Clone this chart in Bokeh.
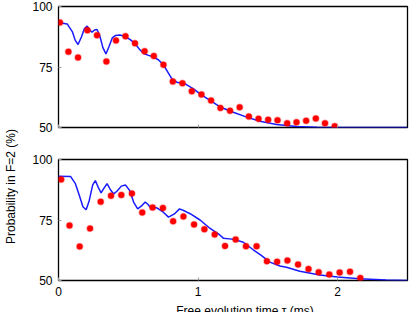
import math
from bokeh.plotting import figure
from bokeh.layouts import row, column
from bokeh.models import FixedTicker, Label
from bokeh.embed import file_html
from bokeh.resources import INLINE

# ---------------- data ----------------
x_ticks = [0, 1, 2]
y_ticks = [50, 75, 100]

top_x = [0.01, 0.071, 0.14, 0.207, 0.276, 0.343, 0.412, 0.48, 0.548, 0.617,
         0.683, 0.752, 0.819, 0.888, 0.955, 1.024, 1.093, 1.16, 1.229, 1.298,
         1.364, 1.433, 1.502, 1.569, 1.638, 1.705, 1.774, 1.843, 1.909, 1.979]
top_y = [93.4, 81.3, 78.9, 90.2, 88.1, 77.3, 86.0, 87.7, 84.8, 81.5,
         79.5, 75.9, 69.0, 68.3, 65.0, 63.6, 61.2, 58.1, 56.9, 58.4,
         54.5, 53.6, 53.2, 53.0, 51.8, 52.2, 52.8, 53.7, 51.8, 50.5]

top_fit_x = [0, 0.03, 0.062, 0.1, 0.12, 0.14, 0.165, 0.185, 0.205, 0.222, 0.24,
             0.258, 0.276, 0.295, 0.318, 0.34, 0.362, 0.385, 0.407, 0.44,
             0.479, 0.514, 0.55, 0.58, 0.61, 0.645, 0.681, 0.715, 0.752, 0.782,
             0.812, 0.848, 0.907, 0.967, 1.026, 1.086, 1.157, 1.252, 1.348,
             1.443, 1.562, 1.705, 1.85, 2.0, 2.25, 2.5]
top_fit_y = [93.1, 93.1, 92.8, 89.5, 86.0, 84.3, 87.5, 90.8, 91.9, 90.5, 89.4,
             90.3, 90.5, 88.0, 83.0, 80.4, 83.5, 87.0, 88.0, 88.2,
             87.6, 86.3, 84.6, 82.3, 80.6, 79.8, 79.1, 78.0, 75.9, 73.0,
             70.1, 68.7, 68.0, 66.0, 63.4, 61.2, 58.5, 56.3, 54.3,
             52.6, 51.2, 50.4, 50.1, 50.0, 50.0, 50.0]

bot_x = [0.019, 0.079, 0.152, 0.226, 0.302, 0.376, 0.45, 0.526, 0.6, 0.674,
         0.748, 0.821, 0.895, 0.971, 1.045, 1.119, 1.193, 1.269, 1.343, 1.419,
         1.493, 1.566, 1.64, 1.716, 1.791, 1.864, 1.94, 2.014, 2.088, 2.162]
bot_y = [91.7, 72.7, 64.0, 71.5, 82.5, 85.0, 85.3, 86.0, 78.1, 80.2,
         80.0, 74.5, 76.4, 73.1, 71.2, 69.0, 64.3, 66.9, 64.2, 64.2,
         58.0, 57.7, 58.3, 56.6, 54.8, 53.4, 52.5, 53.3, 53.6, 51.0]

bot_fit_x = [0, 0.086, 0.121, 0.15, 0.175, 0.198, 0.22, 0.245, 0.264, 0.285,
             0.305, 0.327, 0.348, 0.372, 0.395, 0.42, 0.45, 0.479, 0.51, 0.538,
             0.567, 0.595, 0.621, 0.64, 0.657, 0.68, 0.705, 0.745, 0.788, 0.83,
             0.867, 0.905, 0.943, 1.014, 1.086, 1.145, 1.181, 1.224, 1.264,
             1.324, 1.395, 1.45, 1.514, 1.586, 1.633, 1.729, 1.871, 1.998,
             2.157, 2.348, 2.5]
bot_fit_y = [93.1, 93.0, 90.0, 85.0, 80.5, 79.2, 83.0, 89.5, 91.3, 88.5,
             86.2, 88.3, 90.0, 87.5, 85.8, 87.0, 89.0, 89.5, 87.2, 82.4,
             79.6, 80.8, 82.4, 81.5, 80.3, 80.3, 80.0, 78.5, 76.2, 77.5,
             79.6, 78.7, 77.6, 75.0, 71.5, 69.3, 67.5, 67.2, 66.9,
             65.8, 62.7, 60.5, 57.6, 56.0, 55.5, 53.8, 52.3, 51.4,
             50.7, 50.2, 50.0]

y_title = "Probability in F=2 (%)"
x_title = "Free evolution time τ (ms)"

FONT = "Liberation Sans"


def panel(h, top, bottom, fx, fy, px, py, show_x_labels):
    p = figure(width=387, height=h, x_range=(0, 2.5), y_range=(50, 100),
               output_backend="svg", toolbar_location=None,
               min_border_left=36, min_border_right=2,
               min_border_top=top, min_border_bottom=bottom)
    p.grid.visible = False
    p.outline_line_color = "black"
    p.outline_line_width = 1.3
    p.line(fx, fy, color="#1a1aff", line_width=1.5)
    p.scatter(px, py, size=6, fill_color="red", line_color="red",
              line_alpha=0.35, line_width=1.5)
    p.xaxis.ticker = FixedTicker(ticks=x_ticks)
    p.yaxis.ticker = FixedTicker(ticks=y_ticks)
    for ax in (p.xaxis[0], p.yaxis[0]):
        ax.axis_line_color = None
        ax.major_tick_in = 3
        ax.major_tick_out = 0
        ax.major_tick_line_color = "#999999"
        ax.minor_tick_line_color = None
        ax.major_label_text_font = FONT
        ax.major_label_text_font_size = "12px"
        ax.major_label_text_color = "black"
        ax.major_label_standoff = 6
    if not show_x_labels:
        p.xaxis.major_label_overrides = {t: "" for t in x_ticks}
        p.xaxis.major_label_standoff = 0
    return p


p1 = panel(140, 6, 13, top_fit_x, top_fit_y, top_x, top_y, False)
p2 = panel(160, 19, 20, bot_fit_x, bot_fit_y, bot_x, bot_y, True)

# strip holding the x-axis title (cut at the window bottom as in the reference)
tfig = figure(width=387, height=12, x_range=(0, 387), y_range=(0, 12),
              output_backend="svg", toolbar_location=None,
              x_axis_location=None, y_axis_location=None, min_border=0)
tfig.grid.visible = False
tfig.outline_line_color = None
tfig.add_layout(Label(x=36 + 1.22 * 140, y=2, text=x_title, text_align="center",
                      text_baseline="alphabetic", text_font=FONT,
                      text_font_size="12px", text_color="black"))

lab = figure(width=22, height=312, x_range=(0, 22), y_range=(0, 312),
             output_backend="svg", toolbar_location=None,
             x_axis_location=None, y_axis_location=None, min_border=0)
lab.grid.visible = False
lab.outline_line_color = None
lab.add_layout(Label(x=10, y=312 - 186, text=y_title,
                     angle=math.pi / 2, text_align="center",
                     text_baseline="middle", text_font=FONT,
                     text_font_size="12px", text_color="black"))

layout = row(lab, column(p1, p2, tfig))

open("out.html", "w").write(file_html(layout, INLINE))
